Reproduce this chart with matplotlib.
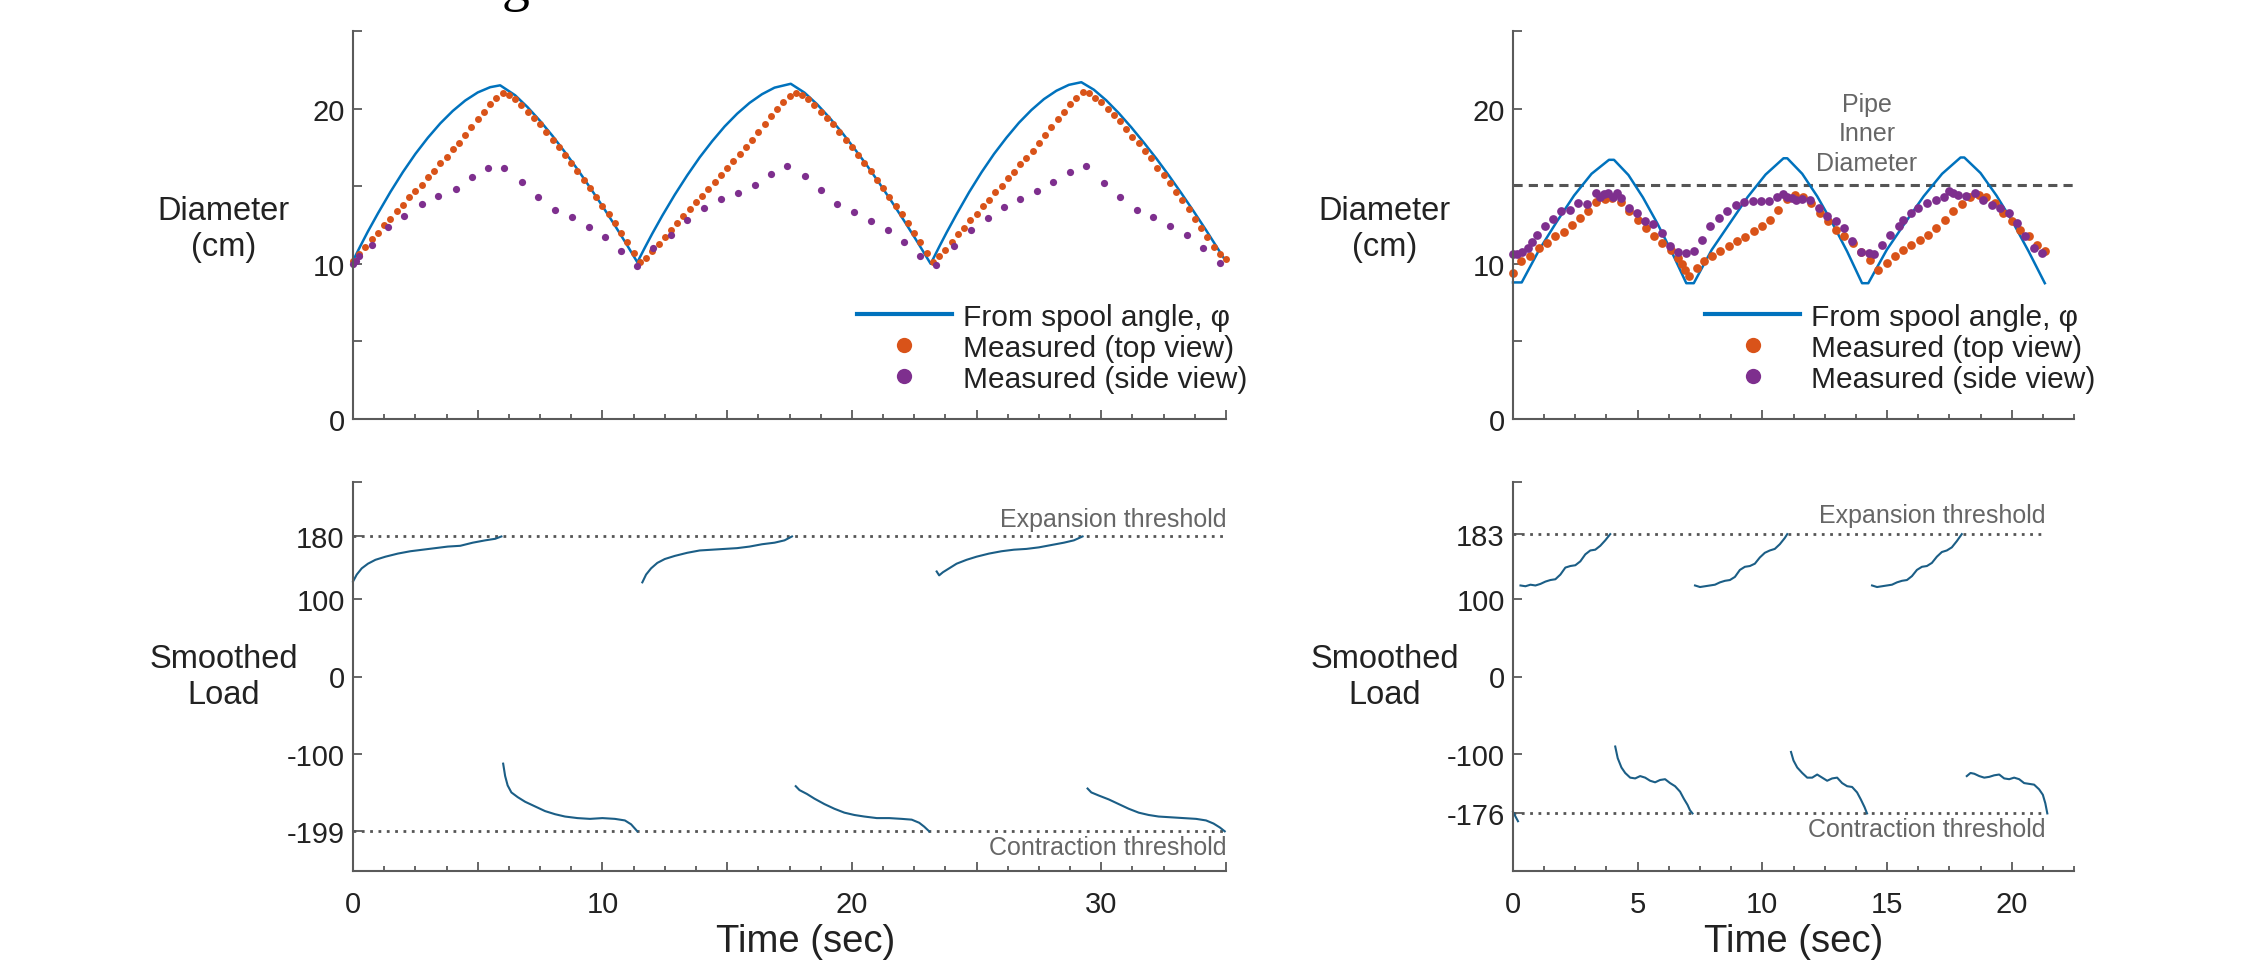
import numpy as np
import matplotlib
matplotlib.use('Agg')
import matplotlib.pyplot as plt
from matplotlib.ticker import MultipleLocator

plt.rcParams['font.family'] = ['Liberation Sans', 'DejaVu Sans']

BLUE = '#0072BD'
ORANGE = '#D95319'
PURPLE = '#7E2F8E'
LOAD = '#1b5e86'
GREY = '#666666'
AXC = '#5a5a5a'
TXT = '#222222'

# ---------------- left experiment: diameter ----------------
a_spool_t = [0, 0.3, 0.6, 1.0, 1.5, 2.0, 2.5, 3.0, 3.5, 4.0, 4.5, 5.0, 5.5, 5.9,
             6.5, 7.0, 7.5, 8.0, 8.5, 9.0, 9.5, 10.0, 10.5, 11.0, 11.4,
             11.7, 12.0, 12.4, 12.9, 13.4, 13.9, 14.4, 14.9, 15.4, 15.9, 16.4, 16.9, 17.55,
             18.1, 18.6, 19.1, 19.6, 20.1, 20.6, 21.1, 21.6, 22.1, 22.6, 23.16,
             23.5, 23.8, 24.2, 24.7, 25.2, 25.7, 26.2, 26.7, 27.2, 27.7, 28.2, 28.7, 29.2,
             29.7, 30.2, 30.7, 31.2, 31.7, 32.2, 32.7, 33.2, 33.7, 34.2, 34.9]
a_spool_d = [10.2, 11.16, 12.09, 13.25, 14.63, 15.91, 17.08, 18.12, 19.05, 19.85, 20.52, 21.04, 21.38, 21.5,
             20.86, 20.09, 19.21, 18.24, 17.19, 16.09, 14.92, 13.72, 12.47, 11.17, 10.1,
             11.04, 11.95, 13.1, 14.45, 15.7, 16.86, 17.9, 18.85, 19.67, 20.37, 20.93, 21.35, 21.6,
             21.03, 20.29, 19.42, 18.47, 17.43, 16.35, 15.2, 14.0, 12.76, 11.48, 10.0,
             11.09, 12.02, 13.2, 14.61, 15.9, 17.08, 18.13, 19.09, 19.91, 20.61, 21.15, 21.53, 21.7,
             21.22, 20.53, 19.71, 18.8, 17.82, 16.8, 15.71, 14.57, 13.39, 12.17, 10.4]

a_top_t = [0.0, 0.25, 0.5, 0.75, 1.0, 1.25, 1.5, 1.75, 2.0, 2.25, 2.5, 2.75, 3.0, 3.25, 3.5,
           3.75, 4.0, 4.25, 4.5, 4.75, 5.0, 5.25, 5.5, 5.75, 6.0,
           6.25, 6.5, 6.75, 7.0, 7.25, 7.5, 7.75, 8.0, 8.25, 8.5, 8.75, 9.0, 9.25, 9.5, 9.75,
           10.0, 10.25, 10.5, 10.75, 11.0, 11.25, 11.5,
           11.75, 12.0, 12.25, 12.5, 12.75, 13.0, 13.25, 13.5, 13.75, 14.0, 14.25, 14.5, 14.75,
           15.0, 15.25, 15.5, 15.75, 16.0, 16.25, 16.5, 16.75, 17.0, 17.25, 17.5, 17.75,
           18.0, 18.25, 18.5, 18.75, 19.0, 19.25, 19.5, 19.75, 20.0, 20.25, 20.5, 20.75, 21.0,
           21.25, 21.5, 21.75, 22.0, 22.25, 22.5, 22.75, 23.0, 23.25,
           23.5, 23.75, 24.0, 24.25, 24.5, 24.75, 25.0, 25.25, 25.5, 25.75, 26.0, 26.25, 26.5,
           26.75, 27.0, 27.25, 27.5, 27.75, 28.0, 28.25, 28.5, 28.75, 29.0, 29.25,
           29.5, 29.75, 30.0, 30.25, 30.5, 30.75, 31.0, 31.25, 31.5, 31.75, 32.0, 32.25, 32.5,
           32.75, 33.0, 33.25, 33.5, 33.75, 34.0, 34.25, 34.5, 34.75, 35.0]
a_top_d = [10.2, 10.6, 11.1, 11.6, 12.0, 12.5, 12.9, 13.4, 13.8, 14.3, 14.7, 15.1, 15.6, 16.0, 16.5,
           16.9, 17.4, 17.8, 18.3, 18.8, 19.3, 19.8, 20.3, 20.7, 21.0,
           20.9, 20.6, 20.2, 19.8, 19.4, 19.0, 18.5, 18.0, 17.5, 17.0, 16.5, 16.0, 15.4, 14.9, 14.3,
           13.7, 13.2, 12.6, 12.0, 11.4, 10.7, 10.1,
           10.4, 10.8, 11.3, 11.7, 12.2, 12.6, 13.1, 13.5, 14.0, 14.4, 14.8, 15.3, 15.7,
           16.2, 16.6, 17.1, 17.5, 18.0, 18.5, 19.0, 19.5, 20.0, 20.4, 20.8, 21.0,
           20.9, 20.6, 20.2, 19.8, 19.4, 19.0, 18.5, 18.0, 17.5, 17.0, 16.5, 16.0, 15.4,
           14.9, 14.3, 13.7, 13.2, 12.6, 12.0, 11.4, 10.7, 10.1,
           10.5, 10.9, 11.4, 11.9, 12.3, 12.8, 13.2, 13.7, 14.1, 14.6, 15.0, 15.5, 15.9,
           16.4, 16.8, 17.3, 17.8, 18.3, 18.8, 19.3, 19.8, 20.3, 20.7, 21.1,
           21.0, 20.7, 20.4, 20.0, 19.6, 19.2, 18.7, 18.2, 17.8, 17.3, 16.8, 16.2, 15.7,
           15.2, 14.6, 14.1, 13.5, 12.9, 12.3, 11.7, 11.1, 10.6, 10.3]

a_side_t = [0.0, 0.12, 0.25, 0.75, 1.39, 2.06, 2.77, 3.41, 4.11, 4.78, 5.42, 6.06, 6.76, 7.43,
            8.11, 8.78, 9.45, 10.12, 10.76, 11.4,
            12.04, 12.74, 13.41, 14.08, 14.75, 15.42, 16.1, 16.77, 17.41, 18.11, 18.75,
            19.42, 20.09, 20.76, 21.43, 22.1, 22.74, 23.38,
            24.09, 24.76, 25.46, 26.1, 26.74, 27.44, 28.08, 28.75, 29.39, 30.1, 30.77,
            31.44, 32.08, 32.75, 33.42, 34.09, 34.76]
a_side_d = [10.0, 10.2, 10.5, 11.19, 12.34, 13.09, 13.84, 14.38, 14.83, 15.62, 16.15, 16.15, 15.3, 14.29,
            13.44, 13.01, 12.37, 11.73, 10.8, 9.88,
            11.02, 11.87, 12.79, 13.59, 14.17, 14.55, 15.08, 15.79, 16.32, 15.68, 14.76,
            13.86, 13.31, 12.73, 12.2, 11.38, 10.48, 9.95,
            11.12, 12.2, 12.94, 13.69, 14.17, 14.7, 15.3, 15.94, 16.32, 15.19, 14.33,
            13.44, 13.01, 12.45, 11.87, 11.02, 10.06]

# ---------------- right experiment: diameter ----------------
b_spool_t = [0.0, 0.35, 1.05, 1.75, 2.45, 3.15, 3.85, 4.05, 4.63, 5.21, 5.79, 6.37, 6.95,
             7.25, 7.97, 8.69, 9.41, 10.13, 10.85, 11.0, 11.6, 12.2, 12.8, 13.4, 14.0,
             14.25, 14.99, 15.73, 16.47, 17.21, 17.95, 18.1, 18.75, 19.39, 20.04, 20.68, 21.33]
b_spool_d = [8.8, 8.8, 10.9, 12.7, 14.4, 15.8, 16.7, 16.7, 15.72, 14.28, 12.6, 10.75, 8.75,
             8.75, 10.9, 12.6, 14.3, 15.75, 16.8, 16.8, 15.8, 14.35, 12.65, 10.8, 8.75,
             8.75, 10.9, 12.65, 14.35, 15.8, 16.85, 16.85, 15.85, 14.4, 12.7, 10.8, 8.75]

b_top_t = [0.0, 0.34, 0.7, 1.04, 1.38, 1.69, 2.03, 2.37, 2.68, 2.99, 3.33, 3.67, 3.98, 4.32,
           4.66, 5.0, 5.33, 5.64, 5.98, 6.32, 6.63, 6.78, 6.9, 7.05, 7.36, 7.67, 7.99, 8.32,
           8.66, 8.97, 9.31, 9.65, 9.99, 10.3, 10.64, 10.98, 11.32, 11.62, 11.96, 12.3, 12.62,
           12.95, 13.29, 13.63, 13.97, 14.3, 14.64, 14.98, 15.32, 15.63, 15.97, 16.31, 16.64,
           16.98, 17.32, 17.66, 18.0, 18.34, 18.67, 18.98, 19.32, 19.66, 20.0, 20.34, 20.68,
           21.02, 21.33]
b_top_d = [9.41, 10.16, 10.48, 11.02, 11.34, 11.77, 12.05, 12.52, 12.94, 13.37, 13.95, 14.17,
           14.23, 14.01, 13.37, 12.84, 12.3, 11.77, 11.34, 10.91, 10.38, 10.0, 9.6, 9.24, 9.74,
           10.16, 10.48, 10.8, 11.12, 11.44, 11.73, 12.09, 12.41, 12.84, 13.44, 14.17, 14.44,
           14.33, 13.91, 13.27, 12.73, 12.2, 11.77, 11.34, 10.74, 10.27, 9.63, 10.06, 10.48,
           10.91, 11.23, 11.51, 11.87, 12.3, 12.84, 13.37, 13.86, 14.29, 14.44, 14.33, 13.91,
           13.27, 12.73, 12.2, 11.77, 11.23, 10.8]

b_side_t = [0.0, 0.18, 0.38, 0.59, 0.77, 0.95, 1.29, 1.6, 1.94, 2.28, 2.62, 2.95, 3.32, 3.5,
            3.65, 3.83, 4.0, 4.16, 4.35, 4.64, 4.97, 5.3, 5.62, 5.96, 6.29, 6.6, 6.94, 7.27,
            7.58, 7.92, 8.26, 8.6, 8.93, 9.27, 9.61, 9.95, 10.26, 10.6, 10.81, 10.99, 11.17,
            11.36, 11.59, 11.93, 12.27, 12.61, 12.95, 13.26, 13.6, 13.94, 14.28, 14.46, 14.8,
            15.14, 15.48, 15.66, 15.97, 16.23, 16.62, 16.96, 17.3, 17.48, 17.66, 17.84, 18.18,
            18.52, 18.86, 19.2, 19.54, 19.88, 20.21, 20.55, 20.89, 21.23]
b_side_d = [10.65, 10.65, 10.74, 11.02, 11.38, 11.87, 12.45, 12.88, 13.37, 13.44, 13.91, 13.86,
            14.55, 14.33, 14.5, 14.55, 14.33, 14.55, 14.23, 13.59, 13.27, 12.73, 12.58, 11.98,
            11.12, 10.74, 10.7, 10.8, 11.55, 12.41, 12.94, 13.37, 13.8, 14.01, 14.05, 14.05,
            14.07, 14.33, 14.5, 14.33, 14.23, 14.12, 14.17, 14.12, 13.59, 13.09, 12.73, 12.3,
            11.44, 10.74, 10.7, 10.6, 11.23, 11.87, 12.41, 12.84, 13.27, 13.59, 13.91, 14.12,
            14.33, 14.66, 14.55, 14.44, 14.37, 14.55, 14.12, 13.8, 13.59, 13.27, 12.62, 11.77,
            11.02, 10.7]
pipe_inner_d = 15.1

# ---------------- smoothed load (NaN separates segments) ----------------
nan = np.nan
a_load_t = [0, 0.15, 0.35, 0.6, 0.9, 1.3, 1.8, 2.3, 2.8, 3.3, 3.8, 4.3, 4.8, 5.3, 5.7, 5.95, nan,
            11.6, 11.75, 11.95, 12.2, 12.5, 12.9, 13.4, 13.9, 14.4, 14.9, 15.4, 15.9, 16.4, 16.9, 17.3, 17.6, nan,
            23.4, 23.5, 23.65, 23.9, 24.2, 24.6, 25.0, 25.5, 26.0, 26.5, 27.0, 27.5, 28.0, 28.5, 28.9, 29.25, nan,
            6.02, 6.1, 6.2, 6.35, 6.6, 6.9, 7.3, 7.7, 8.1, 8.5, 9.0, 9.5, 10.0, 10.5, 10.9, 11.15, 11.4, nan,
            17.75, 17.9, 18.2, 18.5, 18.9, 19.3, 19.7, 20.1, 20.5, 21.0, 21.5, 22.0, 22.4, 22.7, 22.9, 23.1, nan,
            29.45, 29.6, 29.9, 30.3, 30.7, 31.1, 31.5, 31.9, 32.3, 32.8, 33.3, 33.8, 34.2, 34.5, 34.75, 34.95]
a_load = [122, 131, 139, 145, 150, 154, 158, 161, 163, 165, 167, 168, 172, 175, 177, 180, nan,
          121, 131, 139, 146, 151, 155, 159, 162, 163, 164, 165, 167, 170, 172, 175, 180, nan,
          135, 130, 134, 139, 145, 150, 154, 158, 161, 163, 164, 166, 169, 172, 175, 180, nan,
          -112, -128, -140, -149, -155, -161, -167, -173, -177, -180, -182, -183, -182, -183, -185, -190, -199, nan,
          -141, -146, -151, -157, -164, -170, -175, -178, -180, -182, -182, -183, -184, -188, -193, -199, nan,
          -144, -149, -153, -158, -164, -170, -175, -178, -180, -181, -182, -183, -185, -189, -194, -199]
a_expand, a_contract = 180, -199

b_load_t = [0.3, 0.5, 0.7, 0.9, 1.1, 1.3, 1.5, 1.7, 1.9, 2.1, 2.3, 2.5, 2.7, 2.9, 3.1, 3.3, 3.5, 3.7, 3.9, nan,
            7.3, 7.5, 7.7, 7.9, 8.1, 8.3, 8.5, 8.7, 8.9, 9.1, 9.3, 9.5, 9.7, 9.9, 10.1, 10.3, 10.5, 10.7, 10.9, 11.0, nan,
            14.4, 14.6, 14.8, 15.0, 15.2, 15.4, 15.6, 15.8, 16.0, 16.2, 16.4, 16.6, 16.8, 17.0, 17.2, 17.4, 17.6, 17.8, 18.0, nan,
            0.0, 0.1, 0.2, nan,
            4.1, 4.2, 4.35, 4.5, 4.7, 4.9, 5.1, 5.3, 5.5, 5.7, 5.9, 6.1, 6.3, 6.5, 6.7, 6.85, 7.0, 7.1, 7.2, nan,
            11.15, 11.25, 11.4, 11.6, 11.8, 12.0, 12.2, 12.4, 12.6, 12.8, 13.0, 13.2, 13.4, 13.6, 13.8, 13.95, 14.1, 14.2, nan,
            18.2, 18.35, 18.5, 18.7, 18.9, 19.1, 19.3, 19.5, 19.7, 19.9, 20.1, 20.3, 20.5, 20.7, 20.9, 21.1, 21.25, 21.35, 21.43]
b_load = [117, 116, 118, 117, 119, 122, 124, 125, 131, 140, 142, 143, 148, 157, 162, 163, 168, 175, 183, nan,
          117, 115, 116, 117, 118, 121, 123, 124, 128, 137, 141, 142, 145, 153, 159, 162, 164, 170, 178, 183, nan,
          117, 115, 116, 117, 118, 121, 123, 124, 129, 137, 141, 142, 146, 154, 160, 162, 166, 174, 183, nan,
          -174, -180, -186, nan,
          -90, -105, -117, -124, -130, -131, -128, -130, -134, -136, -133, -132, -137, -141, -148, -157, -165, -172, -176, nan,
          -97, -108, -117, -124, -130, -130, -126, -130, -134, -131, -130, -137, -141, -142, -149, -158, -168, -176, nan,
          -128, -124, -125, -128, -130, -129, -127, -126, -131, -132, -130, -132, -137, -138, -139, -145, -152, -163, -176]
b_expand, b_contract = 183, -176

W, H = 2268, 962
fig = plt.figure(figsize=(W / 100, H / 100), dpi=100)
fig.set_facecolor('white')


def px_axes(x0, y0, x1, y1):
    return fig.add_axes([x0 / W, 1 - y1 / H, (x1 - x0) / W, (y1 - y0) / H])


def style(ax):
    for s in ['top', 'right']:
        ax.spines[s].set_visible(False)
    for s in ['left', 'bottom']:
        ax.spines[s].set_color(AXC)
        ax.spines[s].set_linewidth(1.5)
    ax.tick_params(which='both', direction='in', colors=AXC, labelcolor=TXT,
                   labelsize=21, width=1.3)
    ax.tick_params(which='major', length=6.5, pad=6)
    ax.tick_params(which='minor', length=3.6)


axA = px_axes(353, 32, 1226, 420)
axB = px_axes(1513, 32, 2074, 420)
axC = px_axes(353, 483, 1226, 872)
axD = px_axes(1513, 483, 2074, 872)

for ax, xmax in [(axA, 35), (axB, 22.5), (axC, 35), (axD, 22.5)]:
    style(ax)
    ax.set_xlim(0, xmax)
    ax.xaxis.set_minor_locator(MultipleLocator(1.25))

# top panels
for ax in (axA, axB):
    ax.set_ylim(0, 25)
    ax.set_yticks([0, 5, 10, 15, 20, 25])
    ax.set_yticklabels(['0', '', '10', '', '20', ''])
    ax.set_xticks(np.arange(0, ax.get_xlim()[1] + 0.01, 5))
    ax.set_xticklabels([])
    ax.set_ylabel('Diameter\n(cm)', rotation=0, fontsize=23.5, color=TXT,
                  ha='center', va='center', linespacing=1.2)

axA.yaxis.set_label_coords(-0.148, 0.49)
axB.yaxis.set_label_coords(-0.229, 0.49)

axA.plot(a_spool_t, a_spool_d, color=BLUE, lw=1.8, label='From spool angle, \u03c6')
axA.plot(a_top_t, a_top_d, 'o', color=ORANGE, ms=5, mew=0, label='Measured (top view)')
axA.plot(a_side_t, a_side_d, 'o', color=PURPLE, ms=5.2, mew=0, label='Measured (side view)')

axB.axhline(pipe_inner_d, color='#555555', lw=2.2, ls=(0, (3, 2)))
axB.text(14.2, 18.4, 'Pipe\nInner\nDiameter', ha='center', va='center', fontsize=18,
         color=GREY, linespacing=1.3)
axB.plot(b_spool_t, b_spool_d, color=BLUE, lw=1.8, label='From spool angle, \u03c6')
axB.plot(b_top_t, b_top_d, 'o', color=ORANGE, ms=6.3, mew=0, label='Measured (top view)')
axB.plot(b_side_t, b_side_d, 'o', color=PURPLE, ms=6.3, mew=0, label='Measured (side view)')

for ax, xa in [(axA, 0.577), (axB, 0.342)]:
    h, l = ax.get_legend_handles_labels()
    leg = ax.legend(h, l, loc='center left', bbox_to_anchor=(xa, 0.184), frameon=False,
                    fontsize=21.5, handlelength=3.2, handletextpad=0.35, labelspacing=0.1,
                    borderpad=0, borderaxespad=0, numpoints=1)
    for lh in leg.legend_handles:
        if lh.get_marker() == 'o':
            lh.set_markersize(11)
        else:
            lh.set_linewidth(3)
    for t in leg.get_texts():
        t.set_color(TXT)

# bottom panels
for ax, ticks in [(axC, [-199, -100, 0, 100, 180]), (axD, [-176, -100, 0, 100, 183])]:
    ax.set_ylim(-250, 250)
    ax.set_yticks(ticks + [250])
    ax.set_yticklabels([str(v) for v in ticks] + [''])
    ax.set_ylabel('Smoothed\nLoad', rotation=0, fontsize=23.5, color=TXT,
                  ha='center', va='center', linespacing=1.2)
    ax.set_xlabel('Time (sec)', fontsize=27.5, color=TXT, va='bottom')

axC.set_xticks(np.arange(0, 35.1, 5))
axC.set_xticklabels(['0', '', '10', '', '20', '', '30', ''])
axD.set_xticks([0, 5, 10, 15, 20])
axC.tick_params(axis='x', pad=14)
axD.tick_params(axis='x', pad=14)
axC.yaxis.set_label_coords(-0.148, 0.50)
axD.yaxis.set_label_coords(-0.229, 0.50)
axC.xaxis.set_label_coords(0.518, -0.225)
axD.xaxis.set_label_coords(0.5, -0.225)

axC.plot([0, 35], [a_expand, a_expand], color='#555555', lw=2, ls=(0, (1, 2)))
axC.plot([0, 35], [a_contract, a_contract], color='#555555', lw=2, ls=(0, (1, 2)))
axC.plot(a_load_t, a_load, color=LOAD, lw=1.5)
axC.text(35, 203, 'Expansion threshold', ha='right', va='center', fontsize=18, color=GREY)
axC.text(35, -219, 'Contraction threshold', ha='right', va='center', fontsize=18, color=GREY)

axD.plot([0, 21.2], [b_expand, b_expand], color='#555555', lw=2, ls=(0, (1, 2)))
axD.plot([0, 21.2], [b_contract, b_contract], color='#555555', lw=2, ls=(0, (1, 2)))
axD.plot(b_load_t, b_load, color=LOAD, lw=1.5)
axD.text(21.35, 207, 'Expansion threshold', ha='right', va='center', fontsize=18, color=GREY)
axD.text(21.35, -196, 'Contraction threshold', ha='right', va='center', fontsize=18, color=GREY)

for ax in (axA, axB, axC, axD):
    for ln in ax.get_lines():
        ln.set_clip_on(False)

# heading of the page, only its lower edge shows at the top of the picture
fig.text(502 / W, 1.0, 'g', family=['Liberation Serif', 'DejaVu Serif'], fontsize=40,
         va='baseline', ha='left', color='black')

fig.savefig('out.png', dpi=100, facecolor='white')
